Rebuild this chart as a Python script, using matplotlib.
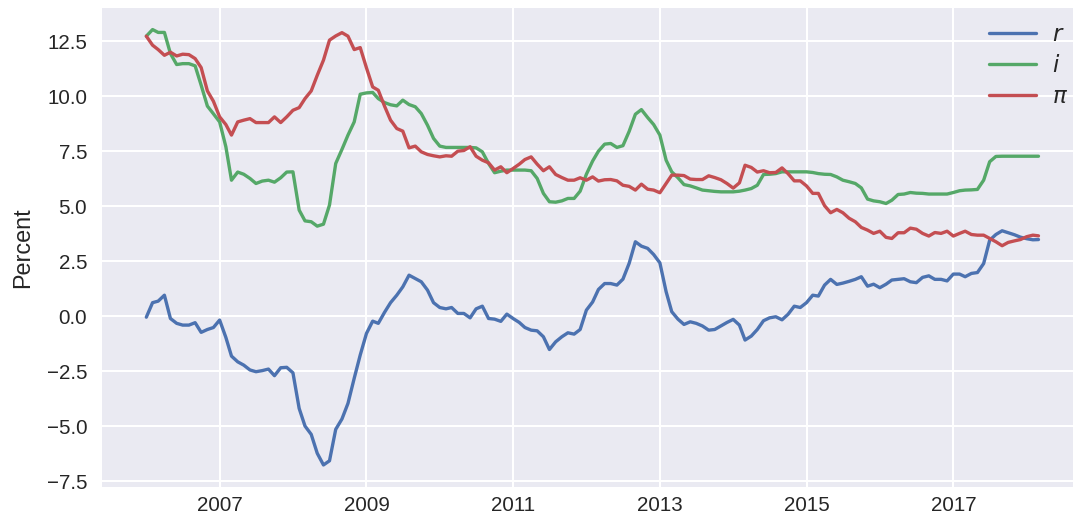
import matplotlib
matplotlib.use("Agg")
import matplotlib.pyplot as plt
import matplotlib.dates as mdates
import pandas as pd
import numpy as np

# Monthly observations, Jan 2006 .. Mar 2018
start_month = "2006-01-01"

r_values = [
    -0.05, 0.61, 0.68, 0.95, -0.11, -0.33, -0.41, -0.41, -0.30, -0.74,
    -0.61, -0.52, -0.18, -0.97, -1.82, -2.08, -2.23, -2.45, -2.53, -2.48,
    -2.41, -2.71, -2.35, -2.33, -2.58, -4.20, -5.00, -5.38, -6.24, -6.77,
    -6.58, -5.15, -4.68, -3.97, -2.83, -1.77, -0.79, -0.23, -0.33, 0.17,
    0.61, 0.95, 1.33, 1.86, 1.71, 1.56, 1.18, 0.61, 0.39, 0.33,
    0.39, 0.12, 0.12, -0.08, 0.33, 0.45, -0.11, -0.14, -0.24, 0.09,
    -0.11, -0.29, -0.52, -0.64, -0.67, -0.94, -1.52, -1.17, -0.94, -0.76,
    -0.82, -0.61, 0.27, 0.64, 1.21, 1.48, 1.48, 1.41, 1.68, 2.40,
    3.38, 3.18, 3.08, 2.80, 2.42, 1.11, 0.20, -0.14, -0.38, -0.26,
    -0.33, -0.45, -0.64, -0.61, -0.45, -0.29, -0.15, -0.41, -1.09, -0.91,
    -0.61, -0.21, -0.08, -0.03, -0.17, 0.08, 0.45, 0.39, 0.61, 0.95,
    0.91, 1.41, 1.67, 1.44, 1.50, 1.58, 1.67, 1.79, 1.36, 1.45,
    1.29, 1.45, 1.64, 1.67, 1.70, 1.56, 1.52, 1.76, 1.83, 1.67,
    1.67, 1.60, 1.91, 1.91, 1.79, 1.94, 1.98, 2.39, 3.45, 3.71,
    3.88, 3.79, 3.70, 3.59, 3.52, 3.47, 3.48,
]

i_values = [
    12.73, 13.03, 12.90, 12.90, 11.94, 11.44, 11.48, 11.48, 11.38, 10.50,
    9.55, 9.20, 8.83, 7.70, 6.18, 6.55, 6.45, 6.26, 6.03, 6.14,
    6.18, 6.09, 6.29, 6.55, 6.56, 4.82, 4.33, 4.29, 4.09, 4.18,
    5.05, 6.94, 7.58, 8.23, 8.83, 10.09, 10.15, 10.17, 9.89, 9.71,
    9.61, 9.56, 9.82, 9.62, 9.52, 9.21, 8.68, 8.08, 7.73, 7.67,
    7.67, 7.67, 7.67, 7.67, 7.65, 7.47, 6.94, 6.52, 6.59, 6.64,
    6.64, 6.64, 6.64, 6.61, 6.26, 5.58, 5.20, 5.18, 5.24, 5.35,
    5.35, 5.68, 6.45, 7.05, 7.50, 7.82, 7.85, 7.67, 7.75, 8.40,
    9.18, 9.39, 9.03, 8.71, 8.23, 7.09, 6.56, 6.29, 5.98, 5.92,
    5.83, 5.73, 5.70, 5.67, 5.65, 5.65, 5.65, 5.68, 5.73, 5.80,
    5.95, 6.44, 6.45, 6.48, 6.56, 6.56, 6.56, 6.56, 6.56, 6.53,
    6.48, 6.45, 6.44, 6.33, 6.18, 6.11, 6.03, 5.83, 5.32, 5.24,
    5.20, 5.12, 5.27, 5.53, 5.55, 5.62, 5.59, 5.58, 5.55, 5.55,
    5.55, 5.55, 5.62, 5.70, 5.73, 5.74, 5.76, 6.18, 7.02, 7.26,
    7.27, 7.27, 7.27, 7.27, 7.27, 7.27, 7.27,
]

pi_values = [
    12.73, 12.32, 12.12, 11.86, 12.00, 11.83, 11.91, 11.89, 11.71, 11.30,
    10.24, 9.77, 9.06, 8.71, 8.23, 8.83, 8.91, 8.98, 8.80, 8.80,
    8.80, 9.06, 8.80, 9.06, 9.36, 9.48, 9.89, 10.24, 10.95, 11.64,
    12.55, 12.74, 12.89, 12.73, 12.12, 12.21, 11.29, 10.42, 10.27, 9.55,
    8.91, 8.53, 8.41, 7.65, 7.73, 7.47, 7.35, 7.29, 7.24, 7.29,
    7.27, 7.50, 7.53, 7.70, 7.27, 7.09, 6.97, 6.64, 6.79, 6.52,
    6.71, 6.91, 7.12, 7.24, 6.91, 6.61, 6.79, 6.44, 6.30, 6.18,
    6.18, 6.29, 6.18, 6.33, 6.14, 6.20, 6.21, 6.15, 5.95, 5.90,
    5.73, 6.00, 5.77, 5.73, 5.61, 6.03, 6.41, 6.41, 6.39, 6.23,
    6.21, 6.21, 6.38, 6.30, 6.20, 6.03, 5.82, 6.06, 6.86, 6.76,
    6.55, 6.61, 6.52, 6.53, 6.74, 6.48, 6.15, 6.15, 5.92, 5.58,
    5.58, 5.02, 4.70, 4.85, 4.70, 4.45, 4.29, 4.03, 3.91, 3.76,
    3.86, 3.58, 3.53, 3.79, 3.79, 4.00, 3.95, 3.76, 3.64, 3.80,
    3.76, 3.86, 3.64, 3.76, 3.86, 3.71, 3.68, 3.68, 3.53, 3.38,
    3.20, 3.35, 3.42, 3.48, 3.61, 3.68, 3.65,
]

series_labels = ["$r$", "$i$", r"$\pi$"]
series_colors = ["#4C72B0", "#55A868", "#C44E52"]
xtick_years = [2007, 2009, 2011, 2013, 2015, 2017]
y_label = "Percent"

dates = pd.date_range(start_month, periods=len(r_values), freq="MS")

text_color = "#262626"
plt.rcParams.update({
    "font.family": ["Liberation Sans", "DejaVu Sans"],
    "axes.facecolor": "#EAEAF2",
    "figure.facecolor": "white",
    "axes.edgecolor": "white",
    "text.color": text_color,
    "axes.labelcolor": text_color,
    "xtick.color": text_color,
    "ytick.color": text_color,
})

fig = plt.figure(figsize=(10.73, 5.20), dpi=100)
ax = fig.add_axes([0.0948, 0.064, 0.9146, 0.921])

for vals, lab, col in zip([r_values, i_values, pi_values], series_labels, series_colors):
    ax.plot(dates, vals, color=col, lw=2.4, label=lab, solid_capstyle="round")

ax.grid(True, color="white", lw=1.5)
ax.set_axisbelow(True)
for s in ax.spines.values():
    s.set_visible(False)

ax.set_xticks([mdates.date2num(pd.Timestamp(f"{y}-01-01")) for y in xtick_years])
ax.xaxis.set_major_formatter(mdates.DateFormatter("%Y"))
ax.set_yticks([-7.5, -5.0, -2.5, 0.0, 2.5, 5.0, 7.5, 10.0, 12.5])
ax.set_yticklabels([f"{v:.1f}".replace("-", "\u2212") for v in ax.get_yticks()])
ax.tick_params(axis="x", length=0, pad=7, labelsize=14.8)
ax.tick_params(axis="y", length=0, pad=10.5, labelsize=14.8)
ax.set_ylabel(y_label, fontsize=16.8, labelpad=9)

leg = ax.legend(loc="upper right", frameon=False, fontsize=16.5, labelspacing=0.36,
                handlelength=2.05, handletextpad=0.7, borderaxespad=0.35, borderpad=0.3)

fig.savefig("out.png", dpi=100)
